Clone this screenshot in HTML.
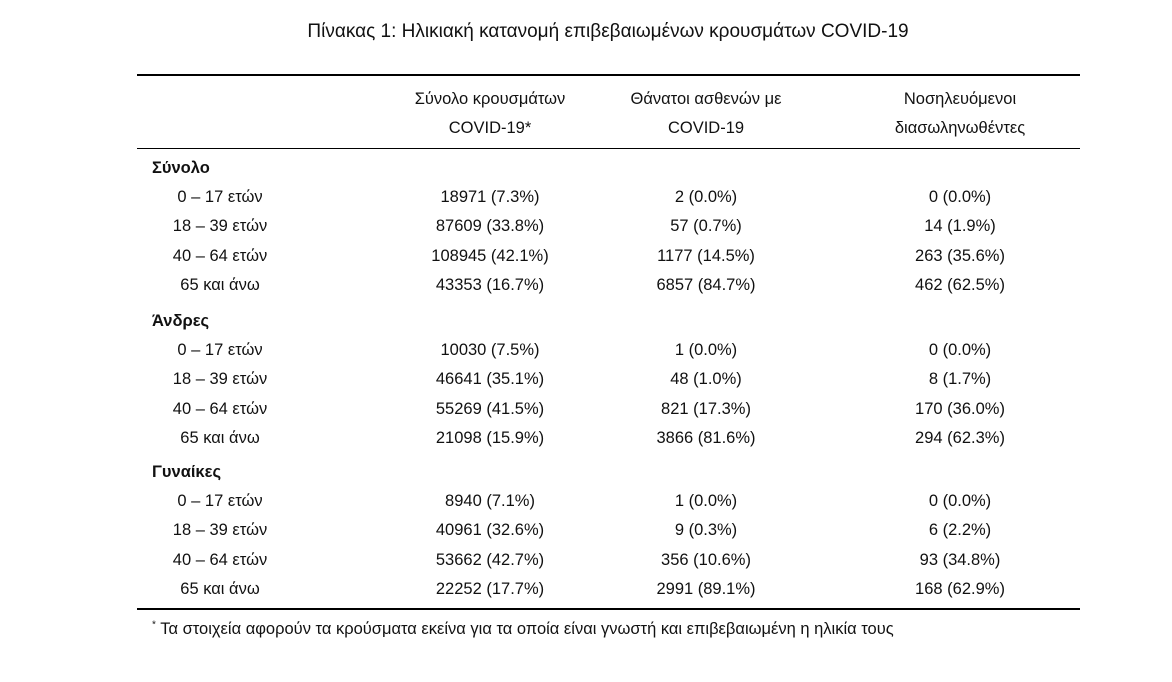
<!DOCTYPE html>
<html><head><meta charset="utf-8">
<style>
body{margin:0;background:#fff;width:1172px;height:682px;position:relative;font-family:"Liberation Sans","DejaVu Sans",sans-serif;color:#111;overflow:hidden}
.t{position:absolute;white-space:nowrap;font-size:16.5px;line-height:20px;transform:translate(-50%,-50%)}
.l{position:absolute;white-space:nowrap;font-size:16.5px;line-height:20px;transform:translateY(-50%)}
.b{font-weight:bold}
.rule{position:absolute;left:137px;width:943px;background:#000}
</style></head><body>
<div class="t" style="left:608px;top:32px;font-size:19px">Πίνακας 1: Ηλικιακή κατανομή επιβεβαιωμένων κρουσμάτων COVID-19</div>
<div class="rule" style="top:74px;height:2px"></div>
<div class="rule" style="top:148px;height:1px"></div>
<div class="rule" style="top:608px;height:2px"></div>
<div class="t" style="left:490px;top:99px">Σύνολο κρουσμάτων</div>
<div class="t" style="left:490px;top:128px">COVID-19*</div>
<div class="t" style="left:706px;top:99px">Θάνατοι ασθενών με</div>
<div class="t" style="left:706px;top:128px">COVID-19</div>
<div class="t" style="left:960px;top:99px">Νοσηλευόμενοι</div>
<div class="t" style="left:960px;top:128px">διασωληνωθέντες</div>
<div id="rows"></div>
<div class="l" style="left:152px;top:627px;font-size:16.5px"><sup style="font-size:10px">*</sup> Τα στοιχεία αφορούν τα κρούσματα εκείνα για τα οποία είναι γνωστή και επιβεβαιωμένη η ηλικία τους</div>
<script>
const groups=["Σύνολο","Άνδρες","Γυναίκες"];
const groupY=[168,321,472];
const ages=["0 – 17 ετών","18 – 39 ετών","40 – 64 ετών","65 και άνω"];
const cases=[["18971 (7.3%)","87609 (33.8%)","108945 (42.1%)","43353 (16.7%)"],["10030 (7.5%)","46641 (35.1%)","55269 (41.5%)","21098 (15.9%)"],["8940 (7.1%)","40961 (32.6%)","53662 (42.7%)","22252 (17.7%)"]];
const deaths=[["2 (0.0%)","57 (0.7%)","1177 (14.5%)","6857 (84.7%)"],["1 (0.0%)","48 (1.0%)","821 (17.3%)","3866 (81.6%)"],["1 (0.0%)","9 (0.3%)","356 (10.6%)","2991 (89.1%)"]];
const intub=[["0 (0.0%)","14 (1.9%)","263 (35.6%)","462 (62.5%)"],["0 (0.0%)","8 (1.7%)","170 (36.0%)","294 (62.3%)"],["0 (0.0%)","6 (2.2%)","93 (34.8%)","168 (62.9%)"]];
const root=document.getElementById('rows');
function add(cls,text,x,y,name){const d=document.createElement('div');d.className=cls;d.textContent=text;d.style.left=x+'px';d.style.top=y+'px';


root.appendChild(d);}
groups.forEach((g,gi)=>{
 add('l b',g,152,groupY[gi],'group-label');
 ages.forEach((a,ai)=>{
  const y=groupY[gi]+29+ai*29.3;
  add('t',a,220,y,'age-label');
  add('t',cases[gi][ai],490,y,'cases-cell');
  add('t',deaths[gi][ai],706,y,'deaths-cell');
  add('t',intub[gi][ai],960,y,'intubated-cell');
 });
});
</script>
</body></html>
